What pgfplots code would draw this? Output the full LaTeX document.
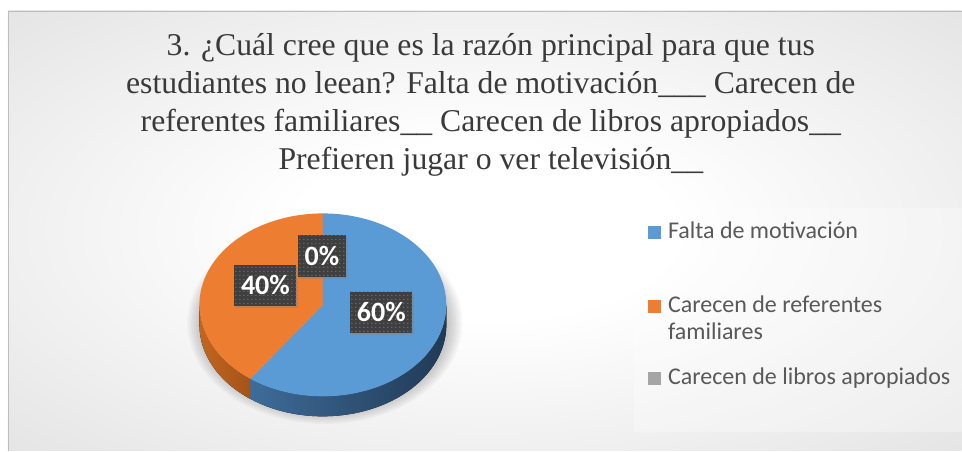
\documentclass[border=0pt]{standalone}
\usepackage{pgfplots}
\pgfplotsset{compat=1.18}
\usepackage{pgfplotstable}
\usepackage{fontspec}
\setmainfont{Liberation Serif}
\newfontfamily\carlito{Carlito}
\usetikzlibrary{patterns,shadows}
\definecolor{cblue}{HTML}{5B9BD5}
\definecolor{corange}{HTML}{ED7D31}
\definecolor{cgray}{HTML}{A5A5A5}
\definecolor{bside1}{HTML}{3E6C99}
\definecolor{bside2}{HTML}{203A55}
\definecolor{oside1}{HTML}{C2661F}
\definecolor{oside2}{HTML}{A4531A}
\definecolor{bgone}{HTML}{E2E2E2}
\definecolor{bgmid}{HTML}{D3D3D3}
\definecolor{bgcorner}{HTML}{C5C5C5}
\definecolor{titletext}{HTML}{3A3A3A}
\definecolor{legtext}{HTML}{595959}
\definecolor{lblgray}{HTML}{3F3F3F}
\definecolor{frame}{HTML}{BDBDBD}
\pgfdeclareradialshading{bgshade}{\pgfpoint{0bp}{0bp}}{color(0bp)=(white); color(10bp)=(white); color(38bp)=(bgone); color(52bp)=(bgmid); color(72bp)=(bgcorner)}

\pgfplotstableread{
id value
1 60
2 40
3 0
}\piedata

\begin{document}
\begin{tikzpicture}[
  lbl/.style={fill=lblgray, text=white, font=\carlito\bfseries\fontsize{21}{23}\selectfont,
    minimum height=31pt, inner xsep=5pt,
    drop shadow={shadow xshift=1.5pt, shadow yshift=-1.5pt, opacity=0.35},
    postaction={pattern=dots, pattern color=black!55!white}}]
\pgfplotstablegetelem{0}{value}\of\piedata \edef\va{\pgfplotsretval}
\pgfplotstablegetelem{1}{value}\of\piedata \edef\vb{\pgfplotsretval}
\pgfplotstablegetelem{2}{value}\of\piedata \edef\vc{\pgfplotsretval}
\pgfmathsetmacro\tot{\va+\vb+\vc}
\pgfmathsetmacro\fa{\va/\tot}
\pgfmathsetmacro\fb{\vb/\tot}
\pgfmathsetmacro\aA{90}
\pgfmathsetmacro\aB{90-\fa*360}
\pgfmathsetmacro\aC{\aB-\fb*360}
\pgfmathsetmacro\bS{360+\aB}
% points on the top ellipse (centre 323,146; radii 123.5, 91.5; depth 20)
\pgfmathsetmacro\pAx{323+123.5*cos(\aA)}\pgfmathsetmacro\pAy{146+91.5*sin(\aA)}
\pgfmathsetmacro\pBx{323+123.5*cos(\aB)}\pgfmathsetmacro\pBy{146+91.5*sin(\aB)}
\pgfmathsetmacro\pBly{\pBy-20}
\begin{axis}[x=0.75pt, y=0.75pt, xmin=0, xmax=962, ymin=0, ymax=451,
  hide axis, clip=false, scale only axis]
% background
\fill[white] (axis cs:0,0) rectangle (axis cs:962,451);
\shade[shading=bgshade] (axis cs:8,0) rectangle (axis cs:962,440);
\draw[frame, line width=0.6pt] (axis cs:8,0) -- (axis cs:8,440) -- (axis cs:962,440);
% legend area
\fill[white, opacity=0.3] (axis cs:634,19) rectangle (axis cs:962,243);
% title
\node[anchor=base, inner sep=0, text=titletext, font=\fontsize{23.8}{28}\selectfont] at (axis cs:491,395) {3. ¿Cuál cree que es la razón principal para que tus};
\node[anchor=base, inner sep=0, text=titletext, font=\fontsize{23.8}{28}\selectfont] at (axis cs:491,357) {estudiantes no leean? Falta de motivación\_\_\_ Carecen de};
\node[anchor=base, inner sep=0, text=titletext, font=\fontsize{23.8}{28}\selectfont] at (axis cs:491,319) {referentes familiares\_\_ Carecen de libros apropiados\_\_};
\node[anchor=base, inner sep=0, text=titletext, font=\fontsize{23.8}{28}\selectfont] at (axis cs:491,281) {Prefieren jugar o ver televisión\_\_};
% pie shadow
\pgfplotsinvokeforeach{0,...,7}{
  \fill[black, opacity=0.03] (axis cs:325,128) ellipse [x radius={92pt+#1*1.6pt}, y radius={66pt+#1*1.4pt}];
}
% sides
\fill[left color=oside1, right color=oside2] (axis cs:199.5,126) arc[start angle=180, end angle=\bS, x radius=92.625pt, y radius=68.625pt] -- (axis cs:\pBx,\pBy) arc[start angle=\bS, end angle=180, x radius=92.625pt, y radius=68.625pt] -- cycle;
\fill[left color=bside1, right color=bside2] (axis cs:\pBx,\pBly) arc[start angle=\bS, end angle=360, x radius=92.625pt, y radius=68.625pt] -- (axis cs:446.5,146) arc[start angle=360, end angle=\bS, x radius=92.625pt, y radius=68.625pt] -- cycle;
% top faces
\fill[cblue] (axis cs:323,146) -- (axis cs:\pAx,\pAy) arc[start angle=\aA, end angle=\aB, x radius=92.625pt, y radius=68.625pt] -- cycle;
\fill[corange] (axis cs:323,146) -- (axis cs:\pBx,\pBy) arc[start angle=\aB, end angle=\aC, x radius=92.625pt, y radius=68.625pt] -- cycle;
% data labels
\node[lbl] at (axis cs:381.5,138.5) {\va\%};
\node[lbl] at (axis cs:265.5,165.5) {\vb\%};
\node[lbl] at (axis cs:322,195) {\vc\%};
% legend
\fill[cblue] (axis cs:648,212) rectangle (axis cs:661,225);
\fill[corange] (axis cs:648,138) rectangle (axis cs:661,151);
\fill[cgray] (axis cs:648,66) rectangle (axis cs:661,79);
\node[anchor=base west, inner sep=0, text=legtext, font=\carlito\fontsize{18}{21}\selectfont] at (axis cs:668,212) {Falta de motivación};
\node[anchor=base west, inner sep=0, text=legtext, font=\carlito\fontsize{18}{21}\selectfont] at (axis cs:668,138) {Carecen de referentes};
\node[anchor=base west, inner sep=0, text=legtext, font=\carlito\fontsize{18}{21}\selectfont] at (axis cs:668,111) {familiares};
\node[anchor=base west, inner sep=0, text=legtext, font=\carlito\fontsize{18}{21}\selectfont] at (axis cs:668,66) {Carecen de libros apropiados};
\end{axis}
\end{tikzpicture}
\end{document}
